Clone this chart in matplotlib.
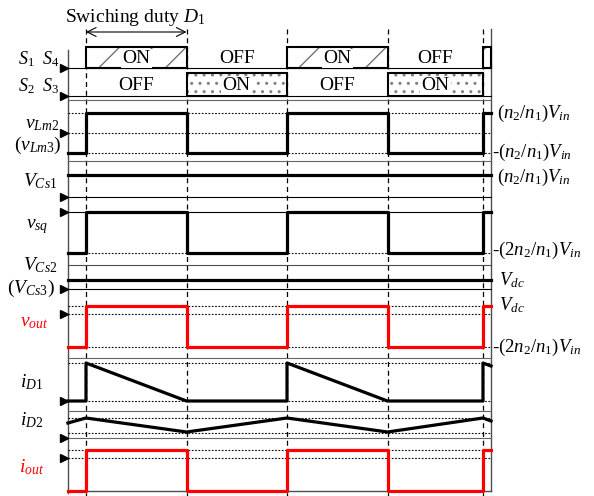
import matplotlib
matplotlib.use("Agg")
import matplotlib.pyplot as plt
from matplotlib.patches import Rectangle

plt.rcParams['font.family'] = ['Liberation Serif', 'DejaVu Serif']
plt.rcParams['mathtext.fontset'] = 'custom'
plt.rcParams['mathtext.rm'] = 'Liberation Serif'
plt.rcParams['mathtext.it'] = 'Liberation Serif:italic'
plt.rcParams['hatch.linewidth'] = 1.0

# ---- data (time in switching periods, values in (n2/n1)Vin units) ----
t_edges = [0.0, 0.5, 1.0, 1.5, 1.975]
t_start, t_end = -0.09, 2.015

vLm_levels = [-1, 1, -1, 1, -1, 1]
vCs1 = 1.0
vsq_levels = [-2, 0, -2, 0, -2, 0]
vdc = 0.5
vout_levels = [-2, vdc, -2, vdc, -2, vdc]
iout_levels = [-2, 0.5, -2, 0.5, -2, 0.5]

iD1_t = [t_start, 0.0, 0.0, 0.5, 1.0, 1.0, 1.5, 1.975, 1.975, t_end]
iD1_v = [0, 0, 1, 0, 0, 1, 0, 0, 1, 0.92]
iD2_t = [t_start, 0.0, 0.5, 1.0, 1.5, 1.975, t_end]
iD2_v = [0.75, 1.0, 0.3, 1.0, 0.3, 1.0, 0.85]

s14_on = [(0.0, 0.5), (1.0, 1.5), (1.975, t_end)]
s23_on = [(0.5, 1.0), (1.5, 1.975)]

# ---- layout (pixels) ----
X0, T = 86, 201
def X(t):
    return X0 + T * t

def step(levels):
    ts, vs = [t_start], [levels[0]]
    for i, te in enumerate(t_edges):
        ts += [te, te]
        vs += [levels[i], levels[i + 1]]
    ts.append(t_end)
    vs.append(levels[-1])
    return [X(t) for t in ts], vs

def row(y0, k, vals):
    return [y0 - k * v for v in vals]

fig = plt.figure(figsize=(5.94, 4.96), dpi=100)
ax = fig.add_axes([0, 0, 1, 1])
ax.set_xlim(0, 594)
ax.set_ylim(496, 0)
ax.axis('off')

xl, xr = X(t_start), X(t_end)
THICK = 2.3
THIN = 0.8

def hline(y, style='-', color='k', lw=THIN):
    ax.plot([xl, xr], [y, y], ls=style, color=color, lw=lw, zorder=2)

def dots(y):
    ax.plot([xl, xr], [y, y], ls=(0, (1.5, 1.5)), color='k', lw=0.8, zorder=2)

def zero_arrow(y):
    ax.plot(xl - 4, y, marker='>', ms=6, color='k', clip_on=False, zorder=5)

# frame
ax.plot([xl, xl], [50, 493], color='0.3', lw=1.0)
ax.plot([xr, xr], [29, 491], color='0.3', lw=1.0)
hline(491, color='0.3', lw=1.0)

# vertical dashed switching lines
for te in t_edges:
    ax.plot([X(te), X(te)], [29, 496], ls=(0, (4, 3)), color='k', lw=0.9, zorder=1)

# switching-duty arrow
ax.annotate('', xy=(X(0.5), 32), xytext=(X(0.0), 32),
            arrowprops=dict(arrowstyle='<->', lw=0.8, mutation_scale=16,
                            shrinkA=0, shrinkB=0, color='k'))
ax.text(135, 22, 'Swiching duty $D_1$', fontsize=14, ha='center', va='baseline')

# S1 S4 / S2 S3 rows
hline(68)
hline(96)
hline(100, color='0.4')
for a, b in s14_on:
    ax.add_patch(Rectangle((X(a), 47), X(b) - X(a), 21, facecolor='white',
                           edgecolor='0.45', hatch='/', lw=0, zorder=3))
    ax.add_patch(Rectangle((X(a), 47), X(b) - X(a), 21, fill=False,
                           edgecolor='k', lw=1.5, zorder=4))
for a, b in s23_on:
    ax.add_patch(Rectangle((X(a), 73), X(b) - X(a), 23, facecolor='white',
                           edgecolor='0.5', hatch='..', lw=0, zorder=3))
    ax.add_patch(Rectangle((X(a), 73), X(b) - X(a), 23, fill=False,
                           edgecolor='k', lw=1.5, zorder=4))
box = dict(facecolor='white', edgecolor='none', pad=1)
for i, (a, b) in enumerate([(0.0, 0.5), (0.5, 1.0), (1.0, 1.5), (1.5, 1.975)]):
    xc = (X(a) + X(b)) / 2
    on_top = i % 2 == 0
    ax.text(xc, 63, 'ON' if on_top else 'OFF', fontsize=14, ha='center',
            va='baseline', bbox=box if on_top else None, zorder=6)
    ax.text(xc, 90, 'OFF' if on_top else 'ON', fontsize=14, ha='center',
            va='baseline', bbox=None if on_top else box, zorder=6)
zero_arrow(68)
zero_arrow(96)

# v_Lm2 row
y_vlm, k_vlm = 133, 20
for v in (1, 0, -1):
    dots(y_vlm - k_vlm * v)
xs, vs = step(vLm_levels)
ax.plot(xs, row(y_vlm, k_vlm, vs), color='k', lw=THICK, zorder=4)
zero_arrow(y_vlm)
hline(161, color='0.4')

# V_Cs1 row
y_cs1, k_cs1 = 197, 22
hline(y_cs1)
ax.plot([xl, xr], row(y_cs1, k_cs1, [vCs1, vCs1]), color='k', lw=THICK, zorder=4)
zero_arrow(y_cs1)

# v_sq row
y_sq, k_sq = 212, 20.5
hline(y_sq)
dots(y_sq + 2 * k_sq)
xs, vs = step(vsq_levels)
ax.plot(xs, row(y_sq, k_sq, vs), color='k', lw=THICK, zorder=4)
zero_arrow(y_sq)
hline(265, color='0.3')

# V_Cs2 row
y_cs2, k_cs2 = 289, 18
hline(y_cs2)
ax.plot([xl, xr], row(y_cs2, k_cs2, [vdc, vdc]), color='k', lw=THICK, zorder=4)
zero_arrow(y_cs2)

# v_out row
y_vo, k_vo = 314, 16.5
for v in (vdc, 0, -2):
    dots(y_vo - k_vo * v)
xs, vs = step(vout_levels)
ax.plot(xs, row(y_vo, k_vo, vs), color='red', lw=THICK, zorder=4)
zero_arrow(y_vo)
hline(358, color='0.4')

# i_D1 row
y_d1, k_d1 = 401, 38
dots(y_d1 - k_d1)
dots(y_d1)
ax.plot([X(t) for t in iD1_t], row(y_d1, k_d1, iD1_v), color='k', lw=THICK, zorder=4)
zero_arrow(y_d1)
hline(411, color='0.4')

# i_D2 row
y_d2, k_d2 = 438, 20
dots(y_d2 - k_d2)
dots(y_d2 - 0.25 * k_d2)
hline(y_d2, color='0.4')
ax.plot([X(t) for t in iD2_t], row(y_d2, k_d2, iD2_v), color='k', lw=THICK, zorder=4)
zero_arrow(y_d2)

# i_out row
y_io, k_io = 458, 16.5
dots(y_io - 0.5 * k_io)
dots(y_io)
xs, vs = step(iout_levels)
ax.plot(xs, row(y_io, k_io, vs), color='red', lw=THICK, zorder=4)
zero_arrow(y_io)

# left labels
fs = 14
ax.text(18, 64, '$S_1$', fontsize=13, va='baseline')
ax.text(42, 64, '$S_4$', fontsize=13, va='baseline')
ax.text(18, 91, '$S_2$', fontsize=13, va='baseline')
ax.text(42, 91, '$S_3$', fontsize=13, va='baseline')
ax.text(42, 128, '$v_{Lm2}$', fontsize=fs, ha='center', va='baseline')
ax.text(38, 150, '$(v_{Lm3})$', fontsize=fs, ha='center', va='baseline')
ax.text(40, 186, '$V_{Cs1}$', fontsize=fs, ha='center', va='baseline')
ax.text(37, 228, '$v_{sq}$', fontsize=fs, ha='center', va='baseline')
ax.text(40, 270, '$V_{Cs2}$', fontsize=fs, ha='center', va='baseline')
ax.text(31, 293, '$(V_{Cs3})$', fontsize=fs, ha='center', va='baseline')
ax.text(34, 326, '$v_{out}$', fontsize=fs, ha='center', va='baseline', color='red')
ax.text(32, 387, '$i_{D1}$', fontsize=fs, ha='center', va='baseline')
ax.text(32, 425, '$i_{D2}$', fontsize=fs, ha='center', va='baseline')
ax.text(32, 472, '$i_{out}$', fontsize=fs, ha='center', va='baseline', color='red')

# right labels
fr = 13.5
ax.text(497, 118, '$(n_2/n_1)V_{in}$', fontsize=fr, va='baseline')
ax.text(492, 157, '-$(n_2/n_1)V_{in}$', fontsize=fr, va='baseline')
ax.text(497, 182, '$(n_2/n_1)V_{in}$', fontsize=fr, va='baseline')
ax.text(492, 255, '-$(2n_2/n_1)V_{in}$', fontsize=fr, va='baseline')
ax.text(499, 285, '$V_{dc}$', fontsize=fr, va='baseline')
ax.text(499, 310, '$V_{dc}$', fontsize=fr, va='baseline')
ax.text(492, 352, '-$(2n_2/n_1)V_{in}$', fontsize=fr, va='baseline')

fig.savefig('out.png', dpi=100)
